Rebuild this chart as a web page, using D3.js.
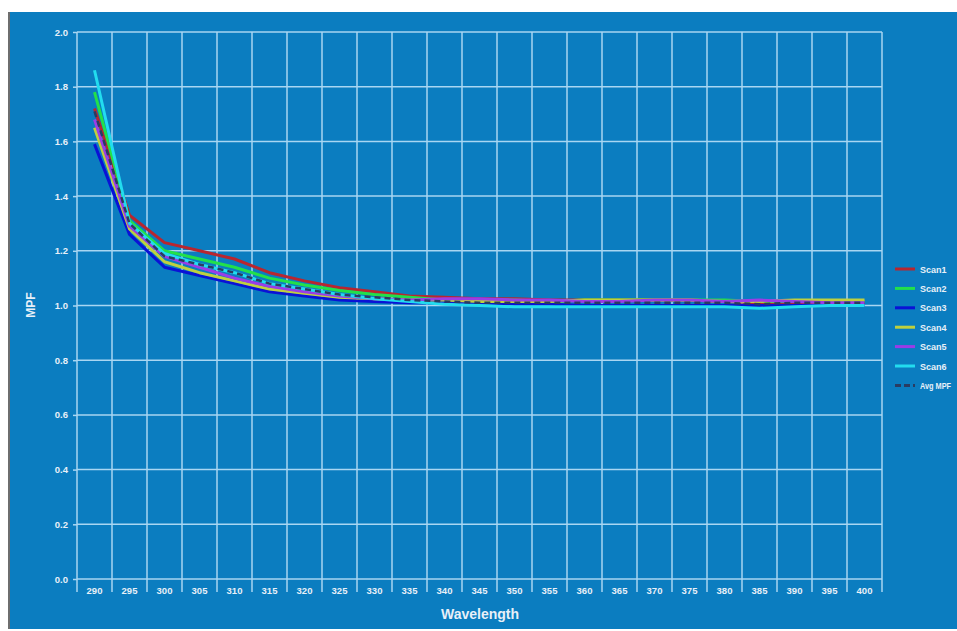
<!DOCTYPE html>
<html>
<head>
<meta charset="utf-8">
<script src="https://cdn.jsdelivr.net/npm/d3@7/dist/d3.min.js"></script>
<style>
  html, body { margin: 0; padding: 0; background: #fff; overflow: hidden; }
  svg { display: block; font-family: "Liberation Sans", Arial, sans-serif; }
</style>
</head>
<body>
<svg id="chart" width="957" height="631"></svg>
<script>
// Wavelength categories (nm)
const wavelengths = [290, 295, 300, 305, 310, 315, 320, 325, 330, 335, 340, 345,
                     350, 355, 360, 365, 370, 375, 380, 385, 390, 395, 400];

// MPF per scan
const scan1 = [1.72, 1.33, 1.23, 1.20, 1.17, 1.12, 1.09, 1.065, 1.05, 1.035, 1.03, 1.025,
               1.025, 1.02, 1.02, 1.02, 1.02, 1.02, 1.015, 1.01, 1.01, 1.01, 1.01];
const scan2 = [1.78, 1.31, 1.20, 1.17, 1.14, 1.10, 1.075, 1.055, 1.04, 1.03, 1.02, 1.02,
               1.02, 1.015, 1.02, 1.02, 1.02, 1.02, 1.02, 1.015, 1.015, 1.015, 1.015];
const scan3 = [1.59, 1.26, 1.14, 1.11, 1.08, 1.05, 1.035, 1.02, 1.015, 1.01, 1.01, 1.01,
               1.005, 1.005, 1.0, 1.0, 1.0, 1.0, 1.0, 1.0, 1.0, 1.0, 1.0];
const scan4 = [1.65, 1.28, 1.16, 1.12, 1.09, 1.06, 1.045, 1.03, 1.025, 1.02, 1.02, 1.015,
               1.015, 1.015, 1.02, 1.02, 1.02, 1.02, 1.015, 1.015, 1.02, 1.02, 1.02];
const scan5 = [1.68, 1.29, 1.18, 1.14, 1.10, 1.07, 1.05, 1.035, 1.025, 1.02, 1.025, 1.025,
               1.02, 1.02, 1.015, 1.015, 1.02, 1.02, 1.015, 1.02, 1.015, 1.01, 1.01];
const scan6 = [1.86, 1.30, 1.19, 1.15, 1.12, 1.08, 1.06, 1.04, 1.025, 1.015, 1.005, 1.0,
               0.995, 0.995, 0.995, 0.995, 0.995, 0.995, 0.995, 0.99, 0.995, 1.0, 1.0];
const avgMpf = [1.71, 1.30, 1.18, 1.15, 1.12, 1.08, 1.06, 1.04, 1.03, 1.02, 1.015, 1.01,
                1.01, 1.01, 1.01, 1.01, 1.01, 1.01, 1.01, 1.005, 1.01, 1.01, 1.01];

const seriesNames  = ["Scan1", "Scan2", "Scan3", "Scan4", "Scan5", "Scan6", "Avg MPF"];
const seriesValues = [scan1, scan2, scan3, scan4, scan5, scan6, avgMpf];
const seriesColors = ["#b8262f", "#22e04a", "#0a12d6", "#bfd03e", "#9b3ce6", "#22dcef", "#2a3c62"];

const yTicks = [0.0, 0.2, 0.4, 0.6, 0.8, 1.0, 1.2, 1.4, 1.6, 1.8, 2.0];

const svg = d3.select("#chart");
const W = 957, H = 631;
const bg = "#0b7dc0";
const gridColor = "#a9d6f2";
const textColor = "#e8f0f8";

// panel
svg.append("rect").attr("x", 10).attr("y", 12).attr("width", W - 10).attr("height", H - 14)
  .attr("fill", bg);
svg.append("line").attr("x1", 9).attr("x2", 9).attr("y1", 12).attr("y2", H - 2)
  .attr("stroke", "#6e6e6e").attr("stroke-width", 2);

const plot = { left: 77, right: 882, top: 32, bottom: 579 };

const x = d3.scaleBand().domain(wavelengths).range([plot.left, plot.right]).paddingInner(0).paddingOuter(0);
const y = d3.scaleLinear().domain([0, 2]).range([plot.bottom, plot.top]);

// horizontal grid + y axis
const yAxis = d3.axisLeft(y).tickValues(yTicks).tickFormat(d3.format(".1f"))
  .tickSize(4).tickPadding(5);
const gy = svg.append("g").attr("transform", `translate(${plot.left},0)`).call(yAxis);
gy.select(".domain").remove();
gy.selectAll(".tick line").attr("stroke", gridColor).attr("stroke-width", 1.5);
gy.selectAll(".tick text").attr("fill", textColor).attr("font-size", 9.5).attr("font-weight", "bold");
svg.append("g").selectAll("line").data(yTicks).join("line")
  .attr("x1", plot.left).attr("x2", plot.right)
  .attr("y1", d => y(d)).attr("y2", d => y(d))
  .attr("stroke", gridColor).attr("stroke-width", 1.5);

// vertical grid at category boundaries, extended below the axis as tick marks
const bounds = wavelengths.map(w => x(w)).concat([x(wavelengths[wavelengths.length - 1]) + x.bandwidth()]);
svg.append("g").selectAll("line").data(bounds).join("line")
  .attr("x1", d => d).attr("x2", d => d)
  .attr("y1", plot.top).attr("y2", plot.bottom + 13)
  .attr("stroke", gridColor).attr("stroke-width", 1.5);

// x axis labels
const xAxis = d3.axisBottom(x).tickSize(0).tickPadding(8);
const gx = svg.append("g").attr("transform", `translate(0,${plot.bottom})`).call(xAxis);
gx.select(".domain").remove();
gx.selectAll(".tick text").attr("fill", textColor).attr("font-size", 9.5).attr("font-weight", "bold");

// axis titles
svg.append("text").attr("x", 480).attr("y", 619).attr("text-anchor", "middle")
  .attr("fill", textColor).attr("font-size", 14).attr("font-weight", "bold").text("Wavelength");
svg.append("text").attr("transform", "translate(35,305) rotate(-90)").attr("text-anchor", "middle")
  .attr("fill", textColor).attr("font-size", 12).attr("font-weight", "bold").text("MPF");

// series lines
const line = d3.line()
  .x((d, i) => x(wavelengths[i]) + x.bandwidth() / 2)
  .y(d => y(d));
seriesValues.forEach((vals, k) => {
  svg.append("path").datum(vals).attr("d", line)
    .attr("fill", "none").attr("stroke", seriesColors[k])
    .attr("stroke-width", k === 6 ? 2.5 : 3)
    .attr("stroke-dasharray", k === 6 ? "6,4" : null)
    .attr("stroke-linejoin", "round");
});

// legend
const leg = svg.append("g");
seriesNames.forEach((name, k) => {
  const ly = 269 + k * 19.4;
  leg.append("line").attr("x1", 895).attr("x2", 915).attr("y1", ly).attr("y2", ly)
    .attr("stroke", seriesColors[k]).attr("stroke-width", 3)
    .attr("stroke-dasharray", k === 6 ? "6,3" : null);
  const t = leg.append("text").attr("x", 920).attr("y", ly + 3.5)
    .attr("fill", textColor).attr("font-size", 9).attr("font-weight", "bold").text(name);
  // keep the longest entry inside the panel
  if (t.node().getComputedTextLength() > 31) {
    t.attr("textLength", 31).attr("lengthAdjust", "spacingAndGlyphs");
  }
});
</script>
</body>
</html>
